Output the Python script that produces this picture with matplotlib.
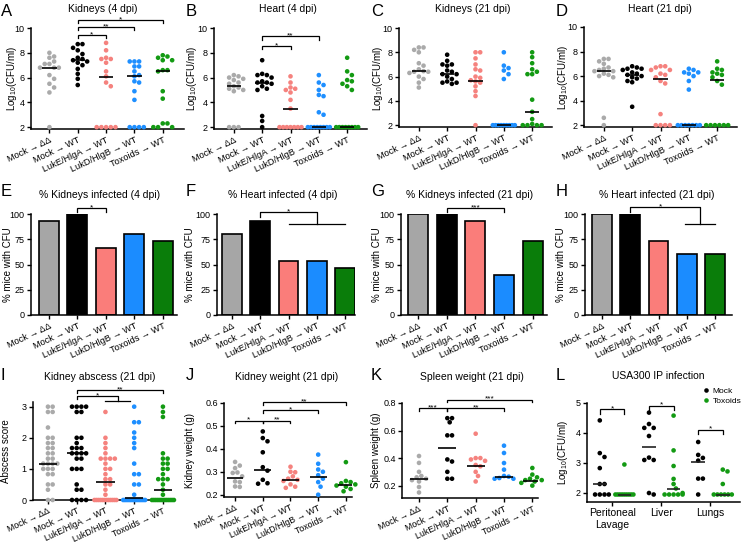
import numpy as np
import matplotlib
matplotlib.use('Agg')
import matplotlib.pyplot as plt

plt.rcParams['font.family'] = ['Liberation Sans', 'DejaVu Sans']
plt.rcParams['mathtext.fontset'] = 'custom'
plt.rcParams['mathtext.rm'] = 'Liberation Sans'
plt.rcParams['mathtext.it'] = 'Liberation Sans:italic'

W, H = 742, 544
fig = plt.figure(figsize=(W / 100, H / 100), dpi=100)

# ---------------- data ----------------
groups = ["Mock → ΔΔ", "Mock → WT", "LukE/HlgA → WT", "LukD/HlgB → WT", "Toxoids → WT"]
dot_colors = ['#aaaaaa', '#000000', '#f5827e', '#1e8fff', '#139a13']
bar_colors = ['#a6a6a6', '#000000', '#fa7d7a', '#1b8cff', '#0a7d0a']

kid4_dd = [8.0, 7.7, 7.6, 7.3, 7.1, 7.1, 6.8, 6.8, 6.8, 6.2, 5.9, 5.5, 5.2, 4.8, 2.0]
kid4_wt = [8.7, 8.7, 8.4, 8.2, 7.9, 7.6, 7.5, 7.4, 7.3, 7.2, 7.0, 6.7, 6.3, 5.9, 5.4]
kid4_luke = [8.8, 8.2, 7.6, 7.5, 7.5, 7.2, 6.5, 6.1, 5.6, 5.3, 2.0, 2.0, 2.0, 2.0, 2.0]
kid4_lukd = [7.3, 7.3, 7.3, 6.9, 6.9, 6.5, 6.2, 6.1, 5.7, 5.6, 4.9, 4.2, 2.0, 2.0, 2.0, 2.0]
kid4_tox = [7.8, 7.7, 7.6, 7.4, 7.4, 6.6, 6.6, 6.5, 4.9, 4.3, 2.3, 2.3, 2.0, 2.0, 2.0]
kid4_med = [6.8, 7.4, 6.05, 6.15, 6.5]

h4_dd = [6.2, 6.1, 6.0, 5.9, 5.8, 5.6, 5.5, 5.3, 5.2, 5.1, 5.0, 4.9, 2.0, 2.0, 2.0]
h4_wt = [7.4, 6.3, 6.2, 6.2, 6.0, 5.7, 5.6, 5.6, 5.5, 5.3, 5.1, 5.0, 2.9, 2.5, 2.0]
h4_luke = [6.1, 5.6, 5.2, 5.1, 5.0, 4.8, 4.2, 3.5] + [2.0] * 7
h4_lukd = [6.2, 5.6, 5.4, 5.0, 4.6, 4.5, 3.2, 3.0] + [2.0] * 8
h4_tox = [7.6, 6.5, 6.2, 5.8, 5.7, 5.5, 5.3, 5.0] + [2.0] * 8
h4_med = [5.3, 5.6, 3.5, 2.0, 2.0]

k21_dd = [8.4, 8.4, 8.2, 8.0, 7.1, 6.9, 6.6, 6.45, 6.4, 6.4, 6.3, 6.0, 5.8, 5.5, 5.1]
k21_wt = [7.8, 7.3, 7.0, 7.0, 6.9, 6.5, 6.4, 6.2, 6.2, 6.0, 5.8, 5.6, 5.5, 5.5, 5.4]
k21_luke = [8.0, 8.0, 7.5, 7.0, 6.6, 6.5, 6.0, 5.9, 5.7, 5.6, 5.5, 5.2, 4.8, 4.4, 2.0]
k21_lukd = [8.0, 6.9, 6.7, 6.5, 6.2, 5.8] + [2.0] * 9
k21_tox = [8.0, 7.6, 7.1, 6.6, 6.4, 6.2, 6.2, 4.1, 3.1, 2.5, 2.1] + [2.0] * 4
k21_med = [6.45, 6.2, 5.65, 2.0, 3.1]

h21_dd = [7.4, 7.4, 7.2, 7.0, 6.7, 6.6, 6.5, 6.4, 6.4, 6.2, 6.1, 6.0, 5.9, 2.6, 2.0]
h21_wt = [6.8, 6.7, 6.6, 6.6, 6.5, 6.3, 6.2, 6.1, 6.0, 5.9, 5.8, 5.6, 5.5, 3.5]
h21_luke = [6.8, 6.8, 6.7, 6.5, 6.5, 6.2, 6.1, 5.9, 5.6, 5.4, 2.9, 2.0, 2.0, 2.0, 2.0]
h21_lukd = [6.6, 6.5, 6.3, 6.3, 6.2, 6.0, 5.6, 4.9] + [2.0] * 7
h21_tox = [7.2, 6.6, 6.5, 6.3, 6.2, 6.1, 5.9, 5.6, 5.3] + [2.0] * 6
h21_med = [6.4, 6.1, 5.8, 2.0, 5.7]

pct_k4 = [93.3, 100, 66.7, 80, 73.3]
pct_h4 = [80, 93.3, 53.3, 53.3, 46.7]
pct_k21 = [100, 100, 93.3, 40, 73.3]
pct_h21 = [100, 100, 73.3, 60, 60]

abs_dd = [3, 3, 2.83, 2.83, 2.33, 2, 2, 1.83, 1.83, 1.67, 1.67, 1.5, 1.5, 1.33, 1.33,
          1.17, 1.17, 1.17, 1.17, 1, 1, 1, 0.83, 0.83, 0.5, 0.5, 0.33, 0, 0]
abs_wt = [3, 3, 3, 3, 2.83, 2.83, 2, 2, 1.83, 1.67, 1.67, 1.67, 1.5, 1.5, 1.5, 1.5,
          1.33, 1.33, 1, 1, 1, 0.5, 0.33, 0.33, 0, 0, 0, 0]
abs_luke = [2.83, 2, 1.83, 1.67, 1.5, 1.33, 1.33, 1.33, 1.33, 1.17, 1, 1, 0.83, 0.67,
            0.67, 0.5, 0.5, 0.33, 0.17] + [0] * 12
abs_lukd = [3, 2.5, 2.5, 2.17, 2, 1.83, 1.67, 1.17, 0.83, 0.83, 0.5, 0.5, 0.17] + [0] * 14
abs_tox = [3, 2.83, 2.67, 1.5, 1.33, 1.33, 1.17, 1.17, 1, 1, 0.83, 0.67, 0.67, 0.67,
           0.5, 0.33, 0.17] + [0] * 13
abs_med = [1.17, 1.5, 0.58, 0.08, 0.33]

kw_dd = [0.343, 0.327, 0.316, 0.297, 0.295, 0.28, 0.258, 0.255, 0.236, 0.234]
kw_wt = [0.476, 0.447, 0.433, 0.385, 0.32, 0.305, 0.265, 0.25, 0.248]
kw_luke = [0.322, 0.30, 0.298, 0.28, 0.27, 0.265, 0.26, 0.245, 0.235, 0.23]
kw_lukd = [0.375, 0.335, 0.31, 0.30, 0.285, 0.27, 0.255, 0.235, 0.20]
kw_tox = [0.342, 0.26, 0.255, 0.25, 0.245, 0.24, 0.235, 0.225, 0.215]
kw_med = [0.272, 0.308, 0.265, 0.278, 0.243]

sw_dd = [0.415, 0.365, 0.30, 0.27, 0.26, 0.25, 0.24, 0.23, 0.19, 0.15]
sw_wt = [0.69, 0.69, 0.66, 0.565, 0.565, 0.39, 0.375, 0.30, 0.25, 0.25]
sw_luke = [0.577, 0.40, 0.40, 0.39, 0.38, 0.35, 0.34, 0.30, 0.27, 0.23]
sw_lukd = [0.49, 0.437, 0.364, 0.316, 0.27, 0.265, 0.255, 0.25, 0.25]
sw_tox = [0.328, 0.28, 0.26, 0.25, 0.24, 0.24, 0.23, 0.22, 0.20]
sw_med = [0.245, 0.473, 0.345, 0.265, 0.235]

ip_sites = ['Peritoneal\nLavage', 'Liver', 'Lungs']
ip_mock = [[4.42, 3.33, 3.2, 2.83, 2.3, 2.3, 1.95, 1.95, 1.95, 1.95],
           [4.68, 4.3, 4.17, 4.17, 3.9, 3.18, 3.1, 3.1, 2.0, 1.95],
           [3.7, 3.27, 3.17, 3.08, 2.48, 2.48, 1.95]]
ip_tox = [[2.95] + [1.95] * 9,
          [4.58, 3.42, 2.9, 2.47, 2.3, 2.15, 2.0] + [1.95] * 5,
          [2.78, 2.72, 2.3] + [1.95] * 6]
ip_med_mock = [2.3, 3.53, 3.05]
ip_med_tox = [1.95, 2.15, 1.95]


# ---------------- helpers ----------------
def add_ax(l, t, r, b, xlim, ylim):
    ax = fig.add_axes([l / W, 1 - b / H, (r - l) / W, (b - t) / H])
    for s in ['top', 'right']:
        ax.spines[s].set_visible(False)
    for s in ['left', 'bottom']:
        ax.spines[s].set_linewidth(1.1)
    ax.tick_params(direction='out', length=3, width=1, labelsize=6.5, pad=1.5)
    ax.patch.set_alpha(0)
    ax.set_xlim(*xlim)
    ax.set_ylim(*ylim)
    return ax


def swarm(ax, x0, vals, color, d=4.7, maxw=11.0, s=11):
    vals = np.asarray(vals, float)
    n = len(vals)
    ypx = ax.transData.transform(np.column_stack([np.full(n, x0), vals]))[:, 1]
    offs = np.zeros(n)
    placed = []
    done = np.zeros(n, bool)
    uniq, counts = np.unique(vals, return_counts=True)
    for u, c in zip(uniq, counts):
        if c * d > 2 * maxw + d:
            idx = np.where(vals == u)[0]
            xs = np.linspace(-maxw, maxw, c)
            for i, xo in zip(idx, xs):
                offs[i] = xo
                placed.append((xo, ypx[i]))
                done[i] = True
    order = sorted([i for i in range(n) if not done[i]], key=lambda i: -vals[i])
    step = d / 2
    cands = [0.0] + [sg * j * step for j in range(1, 60) for sg in (1, -1)]
    for i in order:
        y = ypx[i]
        chosen = None
        for c in cands:
            if all((c - px) ** 2 + (y - py) ** 2 >= d * d * 0.97 for px, py in placed):
                chosen = c
                break
        if chosen is None:
            chosen = 0.0
        chosen = float(np.clip(chosen, -maxw, maxw))
        offs[i] = chosen
        placed.append((chosen, y))
    ppx = ax.transData.transform((1, 0))[0] - ax.transData.transform((0, 0))[0]
    ax.scatter(x0 + offs / ppx, vals, s=s, c=color, edgecolors='none', zorder=3, clip_on=False)


def median_line(ax, x, m, hw, color='k'):
    ax.plot([x - hw, x + hw], [m, m], color=color, lw=1.2, zorder=4, solid_capstyle='butt')


def star(ax, x, y, label, fs=6):
    ax.annotate(label, xy=(x, y), xytext=(0, -0.8), textcoords='offset points',
                ha='center', va='baseline', fontsize=fs, annotation_clip=False)


def bracket(ax, x1, x2, y, h, label, fs=6):
    ax.plot([x1, x1, x2, x2], [y - h, y, y, y - h], color='k', lw=0.9, clip_on=False,
            solid_joinstyle='miter')
    star(ax, (x1 + x2) / 2, y, label, fs)


def split_bracket(ax, x1, y0, y1, xm, y2, xa, xb, xs, label, fs=6):
    ax.plot([x1, x1, xm, xm], [y0, y1, y1, y2], color='k', lw=0.9, clip_on=False)
    ax.plot([xa, xb], [y2, y2], color='k', lw=0.9, clip_on=False)
    star(ax, xs, y1, label, fs)


def cat_xticks(ax, fs=6.6):
    ax.set_xticks(range(5))
    ax.set_xticklabels(groups, rotation=25, ha='right', rotation_mode='anchor', fontsize=fs)


def ftext(x, y, s, **kw):
    fig.text(x / W, 1 - y / H, s, **kw)


def dot_panel(ax, data, meds, hw, maxw=11.0, fs=6.6):
    for i, (v, c) in enumerate(zip(data, dot_colors)):
        swarm(ax, i, v, c, maxw=maxw)
        median_line(ax, i, meds[i], hw)
    cat_xticks(ax, fs)


def bar_panel(ax, pct):
    ax.bar(range(5), pct, width=0.7, color=bar_colors, edgecolor='k', linewidth=1.2, zorder=2)
    ax.set_yticks([0, 25, 50, 75, 100])
    cat_xticks(ax)


cfu_label = r'Log$_{10}$(CFU/ml)'

# ---------------- row 1 ----------------
axA = add_ax(31, 28, 184, 129, (-0.65, 4.75), (1.85, 10))
dot_panel(axA, [kid4_dd, kid4_wt, kid4_luke, kid4_lukd, kid4_tox], kid4_med, 0.25)
axA.set_yticks([2, 4, 6, 8, 10])
bracket(axA, 1, 2, 9.45, 0.22, '*')
bracket(axA, 1, 3, 10.05, 0.22, '**')
bracket(axA, 1, 4, 10.65, 0.22, '*')

axB = add_ax(214, 28, 367, 129, (-0.7, 4.7), (1.85, 10))
dot_panel(axB, [h4_dd, h4_wt, h4_luke, h4_lukd, h4_tox], h4_med, 0.25)
axB.set_yticks([2, 4, 6, 8, 10])
bracket(axB, 1, 2, 8.56, 0.25, '*')
bracket(axB, 1, 3, 9.32, 0.25, '**')

axC = add_ax(399, 28, 552, 127, (-0.7, 4.7), (1.85, 10))
dot_panel(axC, [k21_dd, k21_wt, k21_luke, k21_lukd, k21_tox], k21_med, 0.25)
axC.set_yticks([2, 4, 6, 8, 10])

axD = add_ax(584, 27, 737, 127, (-0.7, 4.7), (1.85, 10))
dot_panel(axD, [h21_dd, h21_wt, h21_luke, h21_lukd, h21_tox], h21_med, 0.25)
axD.set_yticks([2, 4, 6, 8, 10])

# ---------------- row 2 ----------------
axE = add_ax(31, 214, 177, 315, (-0.63, 4.5), (0, 100))
bar_panel(axE, pct_k4)
bracket(axE, 1, 2, 106, 4, '*')

axF = add_ax(217, 214, 355, 315, (-0.53, 4.35), (0, 100))
bar_panel(axF, pct_h4)
split_bracket(axF, 1, 96.7, 102, 3, 90, 2, 4, 2, '*')

axG = add_ax(401, 214, 547, 315, (-0.6, 4.5), (0, 100))
bar_panel(axG, pct_k21)
bracket(axG, 1, 3, 105.6, 3.3, '***')

axH = add_ax(585, 214, 732, 315, (-0.6, 4.6), (0, 100))
bar_panel(axH, pct_h21)
split_bracket(axH, 1, 102.3, 106.6, 3.47, 89.8, 2.94, 4, 2.06, '*')

# ---------------- row 3 ----------------
axI = add_ax(33, 402, 175, 500, (-0.52, 4.42), (0, 3.15))
dot_panel(axI, [abs_dd, abs_wt, abs_luke, abs_lukd, abs_tox], abs_med, 0.32, fs=6.3)
axI.set_yticks([0, 1, 2, 3])
bracket(axI, 1, 4, 3.52, 0.09, '**')
split_bracket(axI, 1, 3.26, 3.34, 2.43, 3.19, 2, 2.85, 1.74, '*')

axJ = add_ax(224, 403, 352, 497, (-0.4, 4.22), (0.19, 0.6))
dot_panel(axJ, [kw_dd, kw_wt, kw_luke, kw_lukd, kw_tox], kw_med, 0.3, fs=6.3)
axJ.set_yticks([0.2, 0.3, 0.4, 0.5, 0.6])
bracket(axJ, 0, 1, 0.523, 0.012, '*')
bracket(axJ, 1, 2, 0.523, 0.012, '**')
bracket(axJ, 1, 3, 0.568, 0.012, '*')
bracket(axJ, 1, 4, 0.603, 0.012, '**')

axK = add_ax(402, 403, 538, 498, (-0.6, 4.2), (0.11, 0.8))
dot_panel(axK, [sw_dd, sw_wt, sw_luke, sw_lukd, sw_tox], sw_med, 0.32, fs=6.3)
axK.set_yticks([0.2, 0.4, 0.6, 0.8])
bracket(axK, 0, 1, 0.764, 0.02, '***')
bracket(axK, 1, 3, 0.764, 0.02, '**')
bracket(axK, 1, 4, 0.824, 0.02, '***')

axL = add_ax(587, 403, 740, 502, (-0.51, 2.6), (1.7, 5.0))
for i in range(3):
    swarm(axL, i - 0.25, ip_mock[i], '#000000', maxw=9)
    swarm(axL, i + 0.25, ip_tox[i], '#139a13', maxw=9)
    median_line(axL, i - 0.25, ip_med_mock[i], 0.14, color='#222222')
    median_line(axL, i + 0.25, ip_med_tox[i], 0.14, color='#222222')
axL.set_yticks([2, 3, 4, 5])
axL.set_xticks(range(3))
axL.set_xticklabels(ip_sites, fontsize=7.5)
bracket(axL, -0.25, 0.25, 4.8, 0.15, '*')
bracket(axL, 0.75, 1.25, 4.91, 0.15, '*')
bracket(axL, 1.75, 2.25, 4.11, 0.15, '*')
mk = dict(marker='o', linestyle='none', markersize=3.3, markeredgewidth=0)
h1, = axL.plot([], [], color='#000000', **mk)
h2, = axL.plot([], [], color='#139a13', **mk)
axL.legend([h1, h2], ['Mock', 'Toxoids'], loc='upper right', bbox_to_anchor=(1.03, 1.19),
           frameon=False, fontsize=6, handlelength=0.8, handletextpad=0.4,
           labelspacing=0.25, borderaxespad=0)

# ---------------- titles, letters, y labels ----------------
titles = [('Kidneys (4 dpi)', 103, 9), ('Heart (4 dpi)', 288, 9),
          ('Kidneys (21 dpi)', 473, 9), ('Heart (21 dpi)', 660, 9),
          ('% Kidneys infected (4 dpi)', 100, 195), ('% Heart infected (4 dpi)', 283, 195),
          ('% Kidneys infected (21 dpi)', 470, 195), ('% Heart infected (21 dpi)', 657, 195),
          ('Kidney abscess (21 dpi)', 100, 377), ('Kidney weight (21 dpi)', 287, 377),
          ('Spleen weight (21 dpi)', 472, 377), ('USA300 IP infection', 658, 376)]
for t, x, y in titles:
    ftext(x, y, t, ha='center', va='center', fontsize=7.5)

letters = [('A', 1, 11), ('B', 186, 11), ('C', 371, 11), ('D', 556, 11),
           ('E', 1, 191), ('F', 186, 191), ('G', 371, 191), ('H', 556, 191),
           ('I', 1, 376), ('J', 186, 376), ('K', 371, 376), ('L', 556, 376)]
for t, x, y in letters:
    ftext(x, y, t, ha='left', va='center', fontsize=12)

ylabels = [(cfu_label, 12, 78), (cfu_label, 192, 78), (cfu_label, 378, 78), (cfu_label, 563, 77),
           ('% mice with CFU', 8, 265), ('% mice with CFU', 190, 265),
           ('% mice with CFU', 377, 265), ('% mice with CFU', 561, 265),
           ('Abscess score', 6, 451), ('Kidney weight (g)', 190, 450),
           ('Spleen weight (g)', 376, 450), (r'Log$_{10}$(CFU/ml)', 563, 452)]
for t, x, y in ylabels:
    ftext(x, y, t, ha='center', va='center', rotation=90, fontsize=7)

fig.savefig('out.png', dpi=100)
